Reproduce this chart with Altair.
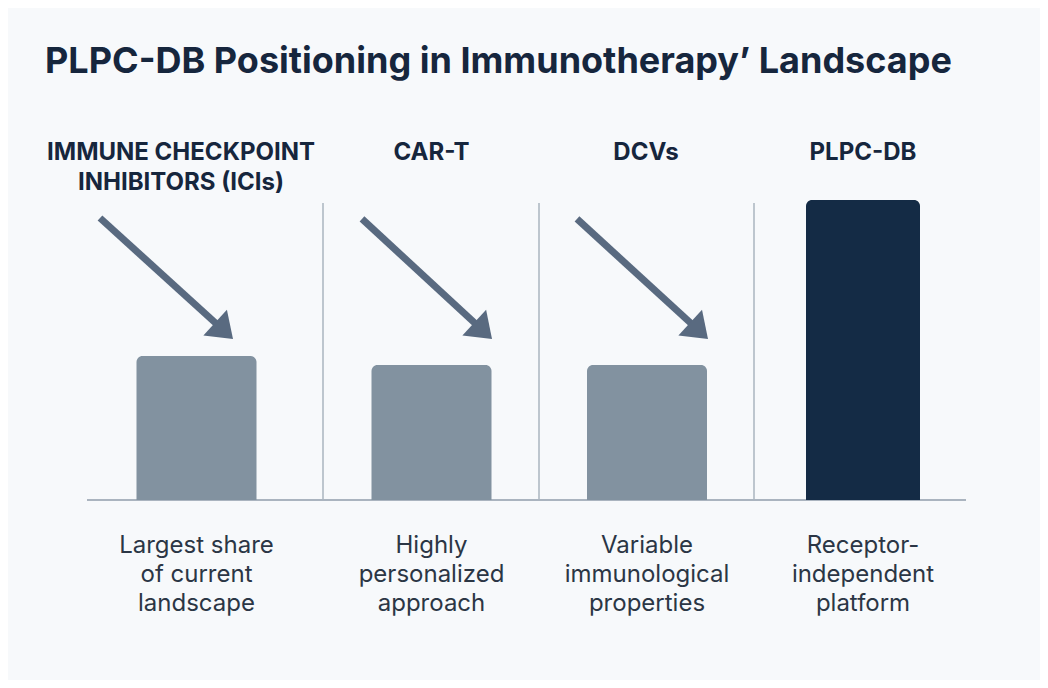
import math
import altair as alt
import pandas as pd

# ---------------- data ----------------
title_text = "PLPC-DB Positioning in Immunotherapy\u2019 Landscape"
categories = ["IMMUNE CHECKPOINT\nINHIBITORS (ICIs)", "CAR-T", "DCVs", "PLPC-DB"]
share_values = [48, 45, 45, 100]
descriptions = [
    "Largest share\nof current\nlandscape",
    "Highly\npersonalized\napproach",
    "Variable\nimmunological\nproperties",
    "Receptor-\nindependent\nplatform",
]
highlight = [False, False, False, True]
has_arrow = [True, True, True, False]

# ---------------- layout (x in px from plot left, y in value units: 3 px per unit) ----------------
W, H = 1032, 672
PX_PER_UNIT = 3.0
col_centers = [188.5, 423.5, 639, 855]
header_x = [173, 423.5, 638, 855]
bar_widths = [120, 120, 120, 114]
separators_x = [315, 531, 746]
sep_top = 99
base_x = (79, 958)
header_y = [113.3, 103.3]
desc_y = [-17.7, -27.3, -37.0]
title_pos = (37, 142.3)
# arrows: start (x, y) and tip (x, y)
arrow_start = [(92, 94.0), (354, 93.7), (569, 93.7)]
arrow_tip = [(225, 53.7), (484, 53.7), (700, 53.7)]
HEAD_R = 17.5          # half width of arrow head, px
HEAD_K = 0.69          # head half-length / half-width
head_path = "M0,-0.69L-1,0.69L1,0.69Z"

bar_grey = "#8292a0"
bar_dark = "#142b45"
arrow_col = "#596a80"
line_col = "#aab4bf"
text_dark = "#16263d"
text_body = "#2b3645"
bg = "#f7f9fb"

# ---------------- tables ----------------
bars = pd.DataFrame({
    "cat": [c.replace("\n", " ") for c in categories],
    "value": share_values,
    "x": [c - w / 2 for c, w in zip(col_centers, bar_widths)],
    "x2": [c + w / 2 for c, w in zip(col_centers, bar_widths)],
    "hl": highlight,
})

arr_rows = []
k = 0
for i, a in enumerate(has_arrow):
    if not a:
        continue
    (sx, sy), (tx, ty) = arrow_start[k], arrow_tip[k]
    k += 1
    dxp = tx - sx
    dyp = (sy - ty) * PX_PER_UNIT  # screen down positive
    L = math.hypot(dxp, dyp)
    ux, uy = dxp / L, dyp / L
    back = HEAD_K * HEAD_R
    cx = tx - ux * back
    cy = ty + uy * back / PX_PER_UNIT
    ang = math.degrees(math.atan2(ux, -uy)) % 360
    arr_rows.append({"sx": sx, "sy": sy, "ex": cx, "ey": cy, "angle": ang})
arrows = pd.DataFrame(arr_rows)

seps = pd.DataFrame({"x": separators_x, "y": [0] * 3, "y2": [sep_top] * 3})
base = pd.DataFrame({"x": [base_x[0]], "x2": [base_x[1]], "y": [0]})

hdr_rows, desc_rows = [], []
for i, (c, d) in enumerate(zip(categories, descriptions)):
    for j, line in enumerate(c.split("\n")):
        hdr_rows.append({"x": header_x[i], "y": header_y[j], "t": line})
    for j, line in enumerate(d.split("\n")):
        desc_rows.append({"x": col_centers[i], "y": desc_y[j], "t": line})
hdr = pd.DataFrame(hdr_rows)
desc = pd.DataFrame(desc_rows)
ttl = pd.DataFrame({"x": [title_pos[0]], "y": [title_pos[1]], "t": [title_text]})

xs = alt.Scale(domain=[0, W], nice=False, zero=False)
ys = alt.Scale(domain=[-60, 164], nice=False, zero=False)
X = lambda f: alt.X(f, type="quantitative", scale=xs, axis=None)
Y = lambda f: alt.Y(f, type="quantitative", scale=ys, axis=None)

baseline = alt.Chart(base).mark_rule(color=line_col, strokeWidth=2).encode(
    x=X("x"), x2="x2", y=Y("y"))
sep_layer = alt.Chart(seps).mark_rule(color=line_col, strokeWidth=1.5).encode(
    x=X("x"), y=Y("y"), y2="y2")
bar_layer = alt.Chart(bars).mark_bar(cornerRadiusTopLeft=6, cornerRadiusTopRight=6).encode(
    x=X("x"), x2="x2", y=Y("value"), y2=alt.datum(0),
    color=alt.condition("datum.hl", alt.value(bar_dark), alt.value(bar_grey)),
)
arrow_lines = alt.Chart(arrows).mark_rule(color=arrow_col, strokeWidth=7, strokeCap="butt").encode(
    x=X("sx"), y=Y("sy"), x2="ex", y2="ey")
arrow_heads = alt.Chart(arrows).mark_point(
    shape=head_path, filled=True, color=arrow_col, opacity=1, size=(2 * HEAD_R) ** 2
).encode(x=X("ex"), y=Y("ey"), angle=alt.Angle("angle:Q", scale=None))
hdr_layer = alt.Chart(hdr).mark_text(
    font="Inter", fontSize=24, fontWeight="bold", color=text_dark, align="center", baseline="alphabetic"
).encode(x=X("x"), y=Y("y"), text="t:N")
desc_layer = alt.Chart(desc).mark_text(
    font="Inter", fontSize=24, color=text_body, align="center", baseline="alphabetic"
).encode(x=X("x"), y=Y("y"), text="t:N")
title_layer = alt.Chart(ttl).mark_text(
    font="Inter", fontSize=36, fontWeight="bold", color=text_dark, align="left", baseline="alphabetic"
).encode(x=X("x"), y=Y("y"), text="t:N")

chart = alt.layer(
    baseline, sep_layer, bar_layer, arrow_lines, arrow_heads, hdr_layer, desc_layer, title_layer
).properties(
    width=W, height=H, autosize=alt.AutoSizeParams(type="none"), padding=0, background=bg
).configure_view(stroke=None)

chart.save("out.html", embed_options={"renderer": "svg", "actions": False})
